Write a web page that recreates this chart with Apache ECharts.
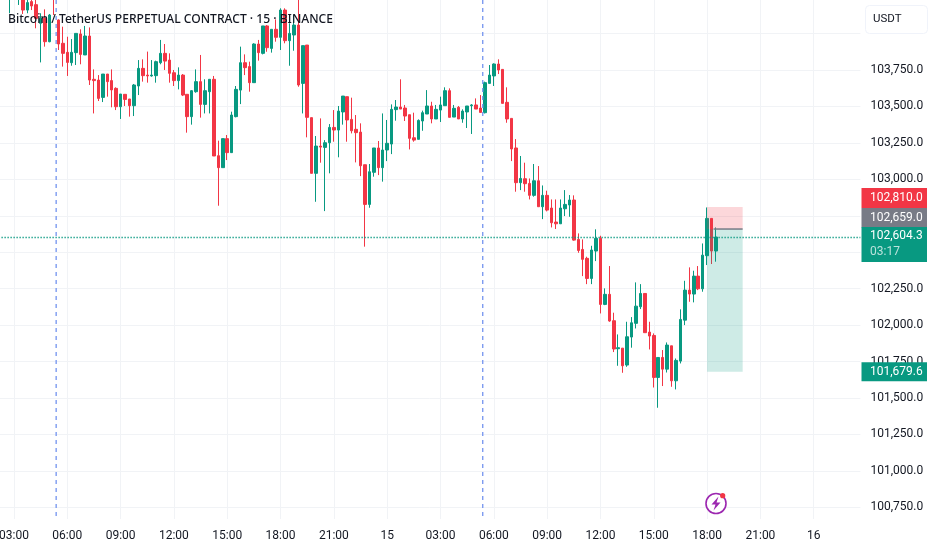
<!DOCTYPE html>
<html>
<head>
<meta charset="utf-8">
<style>html,body{margin:0;padding:0;background:#fff}#c{width:932px;height:550px}</style>
<script src="https://cdn.jsdelivr.net/npm/echarts@6/dist/echarts.min.js"></script>
</head>
<body>
<div id="c"></div>
<script>
const titleText = 'Bitcoin / TetherUS PERPETUAL CONTRACT · 15 · BINANCE';
const unitText = 'USDT';
const tickLabels = ['03:00','06:00','09:00','12:00','15:00','18:00','21:00','15','03:00','06:00','09:00','12:00','15:00','18:00','21:00','16'];
const gridPrices = [100750,101000,101250,101500,101750,102000,102250,102500,102750,103000,103250,103500,103750,104000];
const labelPrices = [100750,101000,101250,101500,101750,102000,102250,102500,102750,103000,103250,103500,103750];
const opens = [104300,104320,104260,104260,104250,104270,104161,104219,104198,104070,
104104,103944,104300,104093,103933,103871,103800,103869,103997,103853,
103983,103686,103681,103562,103722,103677,103624,103498,103583,103551,
103505,103640,103761,103715,103709,103711,103800,103864,103818,103731,
103677,103715,103583,103430,103601,103670,103514,103601,103686,103162,
103080,103279,103183,103430,103612,103800,103773,103663,103928,103864,
104052,103898,104029,103974,104161,103951,103990,104058,103658,103921,
103423,103041,103228,103219,103251,103356,103338,103462,103567,103411,
103343,103324,103100,102828,103048,103215,103080,103201,103242,103478,
103496,103489,103443,103285,103274,103400,103448,103503,103414,103475,
103505,103608,103427,103494,103414,103462,103505,103510,103489,103457,
103658,103709,103791,103754,103528,103418,103215,102977,103004,102972,
102890,102990,102812,102890,102803,102707,102695,102798,102824,102858,
102588,102519,102458,102320,102508,102595,102142,102211,102030,101838,
101842,101726,101918,102012,102126,102217,101952,101929,101641,101778,
101698,101858,101618,101753,102034,102240,102213,102336,102249,102476,
102732,102508];
const closes = [104260,104290,104300,104300,104280,104161,104212,104189,104104,104104,
103944,104127,104260,103928,103864,103802,103871,104001,103857,103983,
103681,103677,103555,103722,103670,103613,103498,103585,103548,103505,
103647,103761,103711,103709,103715,103807,103864,103811,103727,103677,
103715,103578,103430,103608,103670,103514,103608,103686,103160,103080,
103279,103183,103441,103617,103800,103766,103663,103928,103869,104052,
103903,104029,103974,104161,103951,104001,104058,103647,103917,103425,
103041,103228,103221,103251,103356,103338,103468,103571,103407,103333,
103320,103093,102828,103052,103215,103080,103201,103247,103480,103496,
103482,103434,103281,103269,103404,103457,103503,103414,103480,103510,
103608,103425,103487,103414,103468,103503,103510,103482,103459,103663,
103715,103791,103750,103521,103414,103208,102977,103006,102970,102890,
102990,102812,102890,102789,102702,102695,102803,102828,102858,102583,
102512,102451,102320,102515,102595,102142,102211,102028,101836,101845,
101721,101920,102016,102130,102217,101948,101925,101641,101778,101698,
101863,101618,101758,102039,102240,102213,102336,102249,102480,102732,
102508,102604];
const lows = [104240,104250,104139,104240,104196,104134,104139,104161,104036,103802,
103910,103940,104127,103887,103773,103709,103779,103784,103789,103853,
103647,103452,103537,103530,103567,103494,103475,103414,103503,103430,
103434,103578,103670,103663,103704,103663,103789,103750,103663,103640,
103617,103571,103320,103375,103594,103423,103452,103452,103160,102819,
103080,103132,103183,103425,103516,103715,103601,103663,103814,103857,
103875,103869,103944,103887,103933,103779,103882,103635,103452,103288,
103041,102846,103114,102782,103041,103258,103151,103375,103258,103315,
103116,103022,102538,102805,103018,103029,102984,103125,103173,103402,
103482,103400,103205,103258,103274,103333,103448,103384,103414,103393,
103505,103425,103427,103414,103388,103352,103311,103482,103459,103452,
103658,103640,103722,103521,103388,103125,102915,102926,102915,102862,
102881,102812,102727,102780,102670,102659,102695,102748,102743,102579,
102496,102336,102281,102281,102439,102080,102137,102023,101815,101721,
101673,101714,101845,101977,102110,101948,101833,101572,101433,101582,
101675,101577,101559,101737,102000,102160,102156,102240,102229,102412,
102419,102435];
const highs = [104320,104350,104340,104330,104330,104300,104240,104250,104240,104139,
104166,104134,104320,104097,104047,103978,103962,104001,104029,104052,
104042,103754,103715,103722,103722,103754,103631,103585,103583,103551,
103654,103818,103823,103876,103818,103814,103956,103928,103864,103750,
103768,103722,103583,103612,103754,103853,103686,103686,103709,103265,
103279,103304,103464,103640,103910,103857,103807,103933,103956,104052,
104058,104029,104097,104173,104173,104070,104127,104300,103917,103921,
103423,103297,103418,103269,103379,103475,103503,103571,103567,103560,
103441,103384,103100,103105,103215,103263,103452,103407,103514,103544,
103686,103510,103443,103457,103411,103471,103612,103532,103510,103567,
103631,103624,103510,103503,103480,103503,103516,103555,103578,103670,
103784,103795,103823,103754,103631,103418,103276,103160,103114,103006,
103105,103091,102958,102922,102862,102862,102862,102926,102892,102890,
102629,102588,102469,102544,102657,102613,102252,102405,102085,101936,
101842,102023,102055,102293,102281,102217,102023,101943,101778,101829,
101881,101858,101771,102108,102304,102396,102373,102405,102560,102807,
102732,102670];
const axisMin = 100670, axisMax = 104230;
const slotCount = 194;
const firstTickSlot = 3, slotsPerTick = 12;
const lastPrice = 102604.3;
const boxStartSlot = 159, boxEndSlot = 167;
const stopPrice = 102810, entryPrice = 102659, targetPrice = 101679.6;
const dashedSlots = [[12,13],[108,109]];
const tagPrices = [102810,102659,102604.3,101679.6];
const tagTexts = ['102,810.0','102,659.0','102,604.3','101,679.6'];
const tagColors = ['#F23645','#787B86','#089981','#089981'];
const countdownText = '03:17';

const font = 'Roboto, "Noto Sans", sans-serif';
const categories = Array.from({length: slotCount}, (_, k) => {
  const m = 135 + k * 15;
  return 'D' + Math.floor(m / 1440) + ' ' + String(Math.floor(m / 60) % 24).padStart(2, '0') + ':' + String(m % 60).padStart(2, '0');
});
const candles = opens.map((o, i) => [o, closes[i], lows[i], highs[i]]);
const isTick = idx => idx >= firstTickSlot && (idx - firstTickSlot) % slotsPerTick === 0;

const chart = echarts.init(document.getElementById('c'), null, {renderer: 'canvas'});
chart.setOption({
  animation: false,
  backgroundColor: '#ffffff',
  title: {
    text: titleText, left: 8, top: 14, padding: 0,
    textStyle: {fontFamily: '"Noto Sans", sans-serif', fontSize: 12.1, fontWeight: 500, color: '#131722'}, z: 20
  },
  grid: {left: -1.6, width: 862, top: 0, height: 519, containLabel: false, outerBoundsMode: 'none'},
  xAxis: {
    type: 'category', data: categories, boundaryGap: true,
    axisLine: {show: false}, axisTick: {show: false, alignWithLabel: true, interval: i => isTick(i)},
    axisLabel: {
      interval: i => isTick(i), margin: 11, color: '#131722', fontFamily: font, fontSize: 12,
      formatter: (v, i) => tickLabels[(i - firstTickSlot) / slotsPerTick]
    },
    splitLine: {show: true, alignWithLabel: true, interval: i => isTick(i), lineStyle: {color: '#F1F3F6', width: 1}}
  },
  yAxis: {
    type: 'value', position: 'right', min: axisMin, max: axisMax, scale: true,
    axisLine: {show: false}, axisTick: {show: false, customValues: gridPrices},
    axisLabel: {
      customValues: labelPrices, margin: 10, color: '#131722', fontFamily: font, fontSize: 12,
      formatter: v => v.toLocaleString('en-US', {minimumFractionDigits: 1, maximumFractionDigits: 1})
    },
    splitLine: {show: true, lineStyle: {color: '#F1F3F6', width: 1}}
  },
  series: [
    {
      type: 'candlestick', data: candles, barWidth: 3, clip: true, z: 3,
      itemStyle: {color: '#089981', color0: '#F23645', borderColor: '#089981', borderColor0: '#F23645', borderWidth: 1},
      markLine: {
        silent: true, symbol: 'none', animation: false, label: {show: false},
        lineStyle: {color: '#089981', type: [1.5, 1.5], width: 1.4, opacity: 0.85},
        data: [{yAxis: lastPrice}]
      }
    },
    {
      type: 'custom', z: 4, silent: true,
      data: [[boxStartSlot, boxEndSlot, stopPrice, entryPrice, 0], [boxStartSlot, boxEndSlot, entryPrice, targetPrice, 1]],
      encode: {x: 0, y: 2},
      renderItem: (p, api) => {
        const a = api.coord([api.value(0), api.value(2)]);
        const b = api.coord([api.value(1), api.value(3)]);
        const red = api.value(4) === 0;
        const kids = [{type: 'rect', shape: {x: a[0], y: a[1], width: b[0] - a[0], height: b[1] - a[1]},
          style: {fill: red ? 'rgba(242,54,69,0.2)' : 'rgba(8,153,129,0.2)'}}];
        if (!red) {
          const s = api.coord([api.value(0) + 1, api.value(2)]);
          kids.push({type: 'line', shape: {x1: s[0] + 2, y1: a[1], x2: b[0], y2: a[1]}, style: {stroke: '#787B86', lineWidth: 1.5}});
        }
        return {type: 'group', children: kids};
      }
    },
    {
      type: 'custom', z: 5, silent: true,
      data: dashedSlots,
      encode: {x: 0},
      renderItem: (p, api) => {
        const a = api.coord([api.value(0), axisMax]);
        const b = api.coord([api.value(1), axisMin]);
        const x = (a[0] + b[0]) / 2;
        return {type: 'line', shape: {x1: x, y1: a[1], x2: x, y2: b[1]},
          style: {stroke: '#7D9BF0', lineWidth: 1.4, lineDash: [4, 4]}};
      }
    },
    {
      type: 'custom', z: 10, silent: true, clip: false,
      data: tagPrices.map((v, i) => [boxEndSlot, v, i]),
      encode: {x: 0, y: 1},
      renderItem: (p, api) => {
        const i = api.value(2);
        const y = api.coord([api.value(0), api.value(1)])[1];
        const tops = [-19, -21, -10, -9.5];
        const heights = [20, 19.5, 35, 19];
        const top = y + tops[i];
        const kids = [
          {type: 'rect', shape: {x: 861.5, y: top, width: 65.5, height: heights[i]}, style: {fill: tagColors[i]}},
          {type: 'text', style: {text: tagTexts[i], x: 870, y: top + (i === 2 ? 9 : heights[i] / 2), fill: '#fff', font: '12px ' + font, verticalAlign: 'middle'}}
        ];
        if (i === 2) kids.push({type: 'text', style: {text: countdownText, x: 870, y: top + 25, fill: 'rgba(255,255,255,0.72)', font: '12px ' + font, verticalAlign: 'middle'}});
        return {type: 'group', children: kids};
      }
    }
  ],
  graphic: [
    {type: 'rect', z: 30, shape: {x: 865.5, y: 5.5, width: 62, height: 28, r: 4}, style: {fill: '#fff', stroke: '#F0F3FA', lineWidth: 1}},
    {type: 'text', z: 31, style: {text: unitText, x: 873, y: 19.5, fill: '#131722', font: '11.5px ' + font, verticalAlign: 'middle'}},
    {type: 'circle', z: 30, shape: {cx: 716, cy: 503.5, r: 10}, style: {fill: '#fff', stroke: '#9C27B0', lineWidth: 1.6}},
    {type: 'polygon', z: 31, shape: {points: [[718.5,496.5],[711.5,504.5],[715.5,504.5],[713.5,510.5],[720.5,502.5],[716.5,502.5]]}, style: {fill: '#9C27B0'}},
    {type: 'circle', z: 32, shape: {cx: 722.7, cy: 495.7, r: 2.6}, style: {fill: '#F23645'}}
  ]
});
</script>
</body>
</html>
